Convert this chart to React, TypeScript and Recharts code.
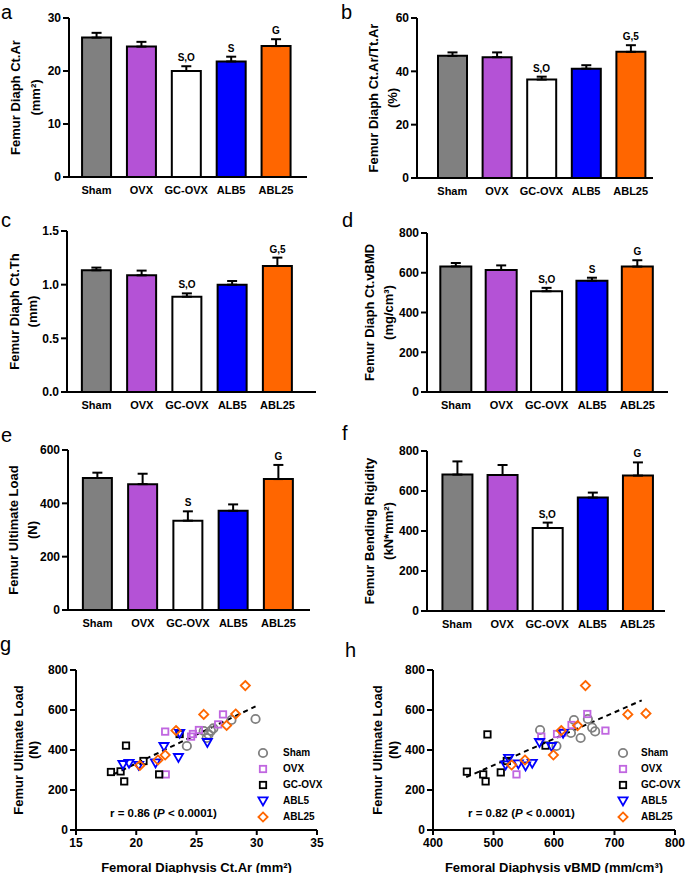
import React from 'react';
import {
  ComposedChart, Bar, Line, XAxis, YAxis, ErrorBar, Cell, LabelList,
  ScatterChart, Scatter, Legend, ReferenceLine,
} from 'recharts';

// ---------- categories ----------
const groups = ['Sham', 'OVX', 'GC-OVX', 'ALB5', 'ABL25'];
const legendGroups = ['Sham', 'OVX', 'GC-OVX', 'ABL5', 'ABL25'];
const barColors = ['#808080', '#B452D6', '#FFFFFF', '#0000FF', '#FF6600'];
const pointColors = ['#808080', '#C066E0', '#000000', '#0000FF', '#FF6600'];

// ---------- bar panel values (mean, SEM, significance) ----------
const ctArMean = [26.3, 24.6, 20.0, 21.8, 24.7];
const ctArSem = [0.9, 0.9, 0.9, 0.9, 1.3];
const ctArSig = ['', '', 'S,O', 'S', 'G'];

const ctArTtArMean = [45.8, 45.3, 36.9, 41.0, 47.3];
const ctArTtArSem = [1.3, 1.8, 1.1, 1.3, 2.5];
const ctArTtArSig = ['', '', 'S,O', '', 'G,5'];

const ctThMean = [1.134, 1.087, 0.888, 1.0, 1.174];
const ctThSem = [0.025, 0.044, 0.031, 0.034, 0.078];
const ctThSig = ['', '', 'S,O', '', 'G,5'];

const vbmdMean = [632, 614, 507, 560, 631];
const vbmdSem = [17, 23, 17, 15, 32];
const vbmdSig = ['', '', 'S,O', 'S', 'G'];

const loadMean = [495, 472, 335, 372, 491];
const loadSem = [20, 39, 35, 24, 53];
const loadSig = ['', '', 'S', '', 'G'];

const rigidMean = [682, 680, 415, 567, 677];
const rigidSem = [66, 50, 27, 25, 66];
const rigidSig = ['', '', 'S,O', '', 'G'];

// ---------- tick labels ----------
const ticksA = [0, 10, 20, 30];
const ticksB = [0, 20, 40, 60];
const ticksC = [0, 0.5, 1.0, 1.5];
const ticksD = [0, 200, 400, 600, 800];
const ticksE = [0, 200, 400, 600];
const ticksF = [0, 200, 400, 600, 800];
const ticksLoad = [0, 200, 400, 600, 800];
const ticksCtArX = [15, 20, 25, 30, 35];
const ticksVbmdX = [400, 500, 600, 700, 800];

// ---------- scatter g: Ct.Ar (mm2) vs ultimate load (N) ----------
const gSham = [[29.9, 555], [27.9, 550], [26.4, 508], [26.2, 496], [25.6, 495], [26.0, 478], [25.85, 460], [24.2, 420]];
const gOvx = [[22.4, 492], [22.45, 278], [24.55, 467], [24.7, 480], [25.2, 500], [26.8, 528], [27.2, 578]];
const gGcOvx = [[17.9, 290], [18.7, 293], [19.0, 243], [19.15, 422], [20.6, 345], [21.9, 278], [23.6, 480]];
const gAbl5 = [[18.9, 327], [19.4, 333], [20.2, 323], [21.6, 335], [22.3, 417], [23.5, 362], [23.6, 483], [25.9, 437]];
const gAbl25 = [[20.3, 323], [21.8, 350], [22.4, 375], [23.3, 497], [25.6, 578], [27.5, 523], [28.25, 580], [29.05, 722]];
const gFit = [[18.1, 278], [29.9, 618]];

// ---------- scatter h: vBMD vs ultimate load (N) ----------
const hSham = [[577, 500], [604, 420], [628, 485], [633, 550], [644, 460], [656, 555], [663, 512], [668, 493]];
const hOvx = [[579, 467], [605, 480], [614, 487], [629, 525], [655, 580], [685, 497], [538, 278]];
const hGcOvx = [[456, 292], [483, 278], [487, 243], [490, 478], [512, 288], [522, 345], [586, 422]];
const hAbl5 = [[520, 325], [525, 358], [541, 330], [553, 320], [564, 333], [576, 437], [596, 417], [615, 483]];
const hAbl25 = [[530, 325], [552, 350], [599, 375], [612, 497], [639, 522], [652, 722], [722, 578], [752, 583]];
const hFit = [[455, 264], [745, 648]];

const rLabels = ['r = 0.86', 'r = 0.82'];
const pLabel = '< 0.0001)';

// ---------- styles ----------
const FONT = '"Liberation Sans", Arial, Helvetica, sans-serif';
const axisLine = { stroke: '#000', strokeWidth: 2 };
const tickLineStyle = { stroke: '#000', strokeWidth: 2 };
const yTickStyle = { fill: '#000', fontSize: 12, fontWeight: 'bold' as const };
const xTickStyle = { fill: '#000', fontSize: 11, fontWeight: 'bold' as const };

function yTitle(lines: string[], xs: number[], left: number, cy: number) {
  return () => (
    <g>
      {lines.map((t, i) => {
        const x = xs[i] - left;
        return (
          <text key={i} x={x} y={cy} transform={`rotate(-90 ${x} ${cy})`} textAnchor="middle"
            dominantBaseline="central" fontSize={13} fontWeight="bold" fill="#000">{t}</text>
        );
      })}
    </g>
  );
}

type BarLayout = {
  left: number; top: number; W: number; H: number;
  plotL: number; plotR: number; plotT: number; plotB: number;
  first: number; last: number; barSize: number; titleX: number[];
};

function BarPanel(props: {
  lay: BarLayout; mean: number[]; sem: number[]; sig: string[]; ticks: number[];
  fmt?: (v: number) => string; titles: string[];
}) {
  const { lay, mean, sem, sig, ticks, fmt, titles } = props;
  const { left, top, W, H, plotL, plotR, plotT, plotB, first, last, barSize, titleX } = lay;
  const band = (last - first) / 4;
  const padL = Math.max(0, first - band / 2 - plotL);
  const padR = Math.max(0, plotR - (last + band / 2));
  const data = groups.map((g, i) => ({ name: g, v: mean[i], e: [0, sem[i]], top: mean[i] + sem[i], sig: sig[i] }));
  const cy = (plotT + plotB) / 2 - top;
  return (
    <div style={{ position: 'absolute', left, top, width: W, height: H }}>
      <ComposedChart width={W} height={H} data={data}
        margin={{ top: plotT - top, right: left + W - plotR, left: 0, bottom: 0 }}>
        <XAxis dataKey="name" height={top + H - plotB} padding={{ left: padL, right: padR }}
          tickLine={false} tickSize={0} tickMargin={9} axisLine={axisLine} tick={xTickStyle} interval={0} />
        <YAxis width={plotL - left} domain={[ticks[0], ticks[ticks.length - 1]]} ticks={ticks}
          tickFormatter={fmt} tickSize={6} tickMargin={2} axisLine={axisLine} tickLine={tickLineStyle}
          tick={yTickStyle} interval={0} label={yTitle(titles, titleX, left, cy)} />
        <Bar dataKey="v" barSize={barSize} stroke="#000" strokeWidth={2} isAnimationActive={false}>
          {data.map((d, i) => <Cell key={i} fill={barColors[i]} />)}
          <ErrorBar dataKey="e" width={5} strokeWidth={2} stroke="#000" direction="y" />
        </Bar>
        <Line dataKey="top" stroke="none" dot={false} activeDot={false} isAnimationActive={false} legendType="none">
          <LabelList dataKey="sig" position="top" offset={5} fill="#000" fontSize={10} fontWeight="bold" />
        </Line>
      </ComposedChart>
    </div>
  );
}

// ---------- scatter markers ----------
function markerEl(kind: number, cx: number, cy: number) {
  const c = pointColors[kind];
  const sw = 1.8;
  if (kind === 0) return <circle cx={cx} cy={cy} r={4.2} fill="none" stroke={c} strokeWidth={sw} />;
  if (kind === 1 || kind === 2)
    return <rect x={cx - 3.2} y={cy - 3.2} width={6.4} height={6.4} fill="none" stroke={c} strokeWidth={sw} />;
  if (kind === 3)
    return <polygon points={`${cx - 4.6},${cy - 3.6} ${cx + 4.6},${cy - 3.6} ${cx},${cy + 4.4}`} fill="none" stroke={c} strokeWidth={sw} />;
  return <polygon points={`${cx},${cy - 4.6} ${cx + 4.6},${cy} ${cx},${cy + 4.6} ${cx - 4.6},${cy}`} fill="none" stroke={c} strokeWidth={sw} />;
}

type ScatterLayout = {
  left: number; top: number; W: number; H: number;
  plotL: number; plotR: number; plotT: number; plotB: number;
  titleX: number[]; legIconX: number; legTextX: number; legTop: number;
};

function ScatterPanel(props: {
  lay: ScatterLayout; sets: number[][][]; fit: number[][]; xTicks: number[]; xTitle: React.ReactNode;
}) {
  const { lay, sets, fit, xTicks, xTitle } = props;
  const { left, top, W, H, plotL, plotR, plotT, plotB, titleX, legIconX, legTextX, legTop } = lay;
  const cy = (plotT + plotB) / 2 - top;
  const xCenter = (plotL + plotR) / 2 - left;
  const legend = () => (
    <div style={{ fontFamily: FONT, fontSize: 10, fontWeight: 'bold', color: '#000' }}>
      {legendGroups.map((g, i) => (
        <div key={g} style={{ height: 16.2, display: 'flex', alignItems: 'center', position: 'relative' }}>
          <svg width={14} height={14} style={{ position: 'absolute', left: 0, top: 1 }}>
            {markerEl(i, 7, 7)}
          </svg>
          <span style={{ position: 'absolute', left: legTextX - (legIconX - 7), top: 2, whiteSpace: 'nowrap' }}>{g}</span>
        </div>
      ))}
    </div>
  );
  return (
    <div style={{ position: 'absolute', left, top, width: W, height: H }}>
      <ScatterChart width={W} height={H}
        margin={{ top: plotT - top, right: left + W - plotR, left: 0, bottom: 0 }}>
        <XAxis type="number" dataKey="x" domain={[xTicks[0], xTicks[xTicks.length - 1]]} ticks={xTicks}
          height={top + H - plotB} tickSize={5} tickMargin={3} axisLine={axisLine} tickLine={tickLineStyle}
          tick={yTickStyle} interval={0}
          label={() => (
            <text x={xCenter} y={867 - top} textAnchor="middle" dominantBaseline="central"
              fontSize={13} fontWeight="bold" fill="#000">{xTitle}</text>
          )} />
        <YAxis type="number" dataKey="y" domain={[0, 800]} ticks={ticksLoad} width={plotL - left}
          tickSize={6} tickMargin={2} axisLine={axisLine} tickLine={tickLineStyle} tick={yTickStyle} interval={0}
          label={yTitle(['Femur Ultimate Load', '(N)'], titleX, left, cy)} />
        {sets.map((pts, i) => (
          <Scatter key={i} name={legendGroups[i]} data={pts.map(([x, y]) => ({ x, y }))}
            isAnimationActive={false}
            shape={(p: any) => markerEl(i, p.cx, p.cy)} />
        ))}
        <ReferenceLine segment={[{ x: fit[0][0], y: fit[0][1] }, { x: fit[1][0], y: fit[1][1] }]}
          stroke="#000" strokeWidth={2} strokeDasharray="5 4" />
        <Legend layout="vertical" align="center" verticalAlign="middle" content={legend}
          wrapperStyle={{ left: legIconX - 7 - left, top: legTop - top, width: 120, height: 85 }} />
      </ScatterChart>
    </div>
  );
}

const layA: BarLayout = { left: 0, top: 0, W: 340, H: 205, plotL: 69, plotR: 307, plotT: 18, plotB: 177, first: 96.5, last: 276, barSize: 29, titleX: [15, 35] };
const layB: BarLayout = { left: 340, top: 0, W: 345, H: 205, plotL: 417, plotR: 653, plotT: 18, plotB: 178, first: 452.5, last: 632.5, barSize: 29, titleX: [373, 392] };
const layC: BarLayout = { left: 0, top: 210, W: 340, H: 205, plotL: 67, plotR: 316, plotT: 231, plotB: 392, first: 96.5, last: 277.5, barSize: 29, titleX: [14, 32] };
const layD: BarLayout = { left: 340, top: 210, W: 345, H: 205, plotL: 427, plotR: 668, plotT: 233, plotB: 392, first: 456, last: 637.5, barSize: 31, titleX: [369, 388] };
const layE: BarLayout = { left: 0, top: 420, W: 340, H: 210, plotL: 68, plotR: 310, plotT: 450, plotB: 610, first: 97.5, last: 278.5, barSize: 29, titleX: [13, 32] };
const layF: BarLayout = { left: 340, top: 420, W: 345, H: 210, plotL: 427, plotR: 665, plotT: 451, plotB: 611, first: 457, last: 637.5, barSize: 30, titleX: [369, 388] };
const layG: ScatterLayout = { left: 0, top: 630, W: 340, H: 243, plotL: 76, plotR: 317, plotT: 670, plotB: 830, titleX: [18, 33], legIconX: 263, legTextX: 283, legTop: 744.6 };
const layH: ScatterLayout = { left: 345, top: 630, W: 340, H: 243, plotL: 433, plotR: 675, plotT: 670, plotB: 830, titleX: [377, 393], legIconX: 623, legTextX: 641, legTop: 744.6 };

const panelLetters = [
  { t: 'a', x: 1, y: 19 }, { t: 'b', x: 341, y: 19 },
  { t: 'c', x: 1, y: 227 }, { t: 'd', x: 342, y: 227 },
  { t: 'e', x: 1, y: 442 }, { t: 'f', x: 342, y: 440 },
  { t: 'g', x: 0, y: 651 }, { t: 'h', x: 345, y: 657 },
];

export default function App() {
  const one = (v: number) => v.toFixed(1);
  return (
    <div style={{ position: 'absolute', left: 0, top: 0, width: 685, height: 873, background: '#fff', fontFamily: FONT, overflow: 'hidden' }}>
      <BarPanel lay={layA} mean={ctArMean} sem={ctArSem} sig={ctArSig} ticks={ticksA} titles={['Femur Diaph Ct.Ar', '(mm²)']} />
      <BarPanel lay={layB} mean={ctArTtArMean} sem={ctArTtArSem} sig={ctArTtArSig} ticks={ticksB} titles={['Femur Diaph Ct.Ar/Tt.Ar', '(%)']} />
      <BarPanel lay={layC} mean={ctThMean} sem={ctThSem} sig={ctThSig} ticks={ticksC} fmt={one} titles={['Femur Diaph Ct.Th', '(mm)']} />
      <BarPanel lay={layD} mean={vbmdMean} sem={vbmdSem} sig={vbmdSig} ticks={ticksD} titles={['Femur Diaph Ct.vBMD', '(mg/cm³)']} />
      <BarPanel lay={layE} mean={loadMean} sem={loadSem} sig={loadSig} ticks={ticksE} titles={['Femur Ultimate Load', '(N)']} />
      <BarPanel lay={layF} mean={rigidMean} sem={rigidSem} sig={rigidSig} ticks={ticksF} titles={['Femur Bending Rigidity', '(kN*mm²)']} />
      <ScatterPanel lay={layG} sets={[gSham, gOvx, gGcOvx, gAbl5, gAbl25]} fit={gFit} xTicks={ticksCtArX}
        xTitle={'Femoral Diaphysis Ct.Ar (mm²)'} />
      <ScatterPanel lay={layH} sets={[hSham, hOvx, hGcOvx, hAbl5, hAbl25]} fit={hFit} xTicks={ticksVbmdX}
        xTitle={'Femoral Diaphysis vBMD (mm/cm³)'} />
      <svg width={685} height={873} style={{ position: 'absolute', left: 0, top: 0, pointerEvents: 'none' }}>
        {panelLetters.map((p) => (
          <text key={p.t} x={p.x} y={p.y} fontSize={20} fill="#000">{p.t}</text>
        ))}
        <text x={110} y={817} fontSize={11.5} fontWeight="bold" fill="#000">
          {rLabels[0]} (<tspan fontStyle="italic">P</tspan> {pLabel}
        </text>
        <text x={468} y={817} fontSize={11.5} fontWeight="bold" fill="#000">
          {rLabels[1]} (<tspan fontStyle="italic">P</tspan> {pLabel}
        </text>
      </svg>
    </div>
  );
}
